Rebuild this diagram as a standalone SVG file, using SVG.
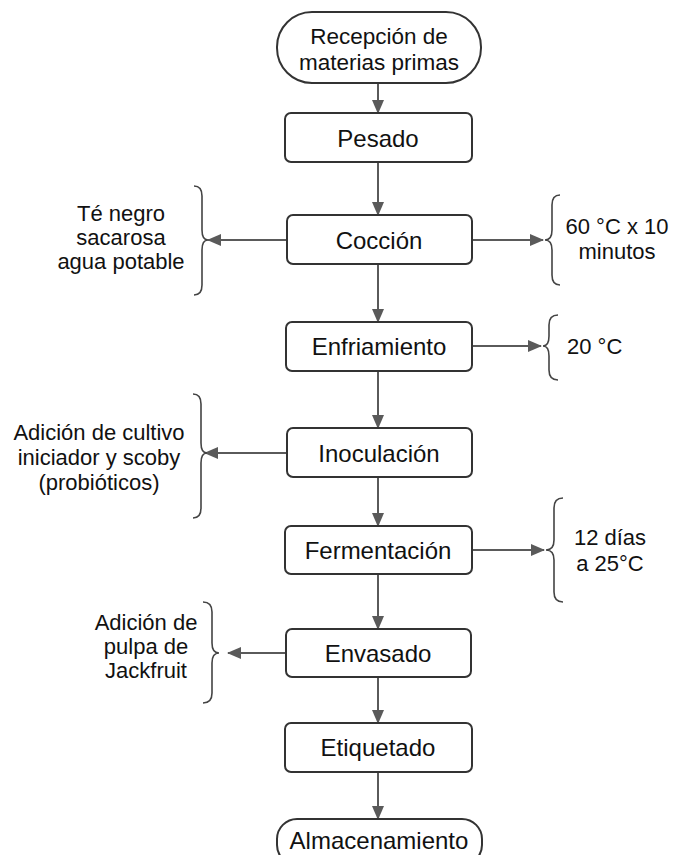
<svg xmlns="http://www.w3.org/2000/svg" width="673" height="855" viewBox="0 0 673 855">
<style>
.box{fill:#fff;stroke:#333;stroke-width:2}
.t{font-family:"Liberation Sans",Arial,sans-serif;font-size:24px;fill:#111;text-anchor:middle;dominant-baseline:central}
.t2{font-size:22.5px}
.s{font-family:"Liberation Sans",Arial,sans-serif;font-size:22px;fill:#111;text-anchor:middle;dominant-baseline:central}
.c{fill:none;stroke:#5a5a5a;stroke-width:2}
.br{fill:none;stroke:#444;stroke-width:1.6}
</style>
<defs>
<marker id="ah" markerUnits="userSpaceOnUse" markerWidth="14" markerHeight="12" refX="13" refY="6" orient="auto">
<path d="M0,0 L14,6 L0,12 Z" fill="#5a5a5a"/>
</marker>
</defs>
<rect width="673" height="855" fill="#fff"/>
<g id="connectors">
<line class="c" x1="378" y1="83" x2="378" y2="113" marker-end="url(#ah)"/>
<line class="c" x1="378" y1="162" x2="378" y2="215" marker-end="url(#ah)"/>
<line class="c" x1="378" y1="264" x2="378" y2="322" marker-end="url(#ah)"/>
<line class="c" x1="378" y1="371" x2="378" y2="428" marker-end="url(#ah)"/>
<line class="c" x1="378" y1="477" x2="378" y2="526" marker-end="url(#ah)"/>
<line class="c" x1="378" y1="574" x2="378" y2="629" marker-end="url(#ah)"/>
<line class="c" x1="378" y1="677" x2="378" y2="723" marker-end="url(#ah)"/>
<line class="c" x1="378" y1="772" x2="378" y2="819" marker-end="url(#ah)"/>
<line class="c" x1="287" y1="240" x2="208" y2="240" marker-end="url(#ah)"/>
<line class="c" x1="472" y1="240" x2="543" y2="240" marker-end="url(#ah)"/>
<line class="c" x1="472" y1="346" x2="541" y2="346" marker-end="url(#ah)"/>
<line class="c" x1="287" y1="453" x2="205" y2="453" marker-end="url(#ah)"/>
<line class="c" x1="472" y1="550" x2="544" y2="550" marker-end="url(#ah)"/>
<line class="c" x1="286" y1="653" x2="228" y2="653" marker-end="url(#ah)"/>
</g>
<g id="n1"><rect class="box" x="277" y="12" width="204" height="71" rx="35"/><text class="t t2" x="379" y="36">Recepción de</text><text class="t t2" x="379" y="62">materias primas</text></g>
<g id="n2"><rect class="box" x="285" y="113" width="187" height="49" rx="6"/><text class="t" x="378" y="138">Pesado</text></g>
<g id="n3"><rect class="box" x="287" y="215" width="185" height="49" rx="6"/><text class="t" x="379" y="240">Cocción</text></g>
<g id="n4"><rect class="box" x="286" y="322" width="186" height="49" rx="6"/><text class="t" x="379" y="346">Enfriamiento</text></g>
<g id="n5"><rect class="box" x="287" y="428" width="185" height="49" rx="6"/><text class="t" x="379" y="453">Inoculación</text></g>
<g id="n6"><rect class="box" x="285" y="526" width="187" height="48" rx="6"/><text class="t" x="378" y="550">Fermentación</text></g>
<g id="n7"><rect class="box" x="286" y="629" width="185" height="48" rx="6"/><text class="t" x="378" y="653">Envasado</text></g>
<g id="n8"><rect class="box" x="285" y="723" width="187" height="49" rx="6"/><text class="t" x="378" y="747">Etiquetado</text></g>
<g id="n9"><rect class="box" x="277" y="819" width="205" height="46" rx="20"/><text class="t" x="379" y="840">Almacenamiento</text></g>
<g id="side1"><path class="br" d="M194,186 Q202,186 202,196 L202,230 Q202,240 208,240 Q202,240 202,250 L202,285 Q202,295 194,295"/><text class="s" x="121" y="213">Té negro</text><text class="s" x="121" y="237">sacarosa</text><text class="s" x="121" y="261">agua potable</text></g>
<g id="side2"><path class="br" d="M560,195 Q552,195 552,205 L552,230 Q552,240 545,240 Q552,240 552,250 L552,275 Q552,285 560,285"/><text class="s" x="617" y="226">60 °C x 10</text><text class="s" x="617" y="251">minutos</text></g>
<g id="side3"><path class="br" d="M558,315 Q549,315 549,325 L549,336 Q549,346 543,346 Q549,346 549,356 L549,370 Q549,380 558,380"/><text class="s" x="567" y="346" style="text-anchor:start">20 °C</text></g>
<g id="side4"><path class="br" d="M193,394 Q201,394 201,404 L201,443 Q201,453 207,453 Q201,453 201,463 L201,508 Q201,518 193,518"/><text class="s" x="99" y="432">Adición de cultivo</text><text class="s" x="99" y="457">iniciador y scoby</text><text class="s" x="99" y="482">(probióticos)</text></g>
<g id="side5"><path class="br" d="M563,498 Q554,498 554,508 L554,540 Q554,550 546,550 Q554,550 554,560 L554,592 Q554,602 563,602"/><text class="s" x="610" y="537">12 días</text><text class="s" x="610" y="563">a 25°C</text></g>
<g id="side6"><path class="br" d="M203,602 Q212,602 212,612 L212,643 Q212,653 219,653 Q212,653 212,663 L212,693 Q212,703 203,703"/><text class="s" x="146" y="622">Adición de</text><text class="s" x="146" y="646">pulpa de</text><text class="s" x="146" y="670">Jackfruit</text></g>
</svg>
